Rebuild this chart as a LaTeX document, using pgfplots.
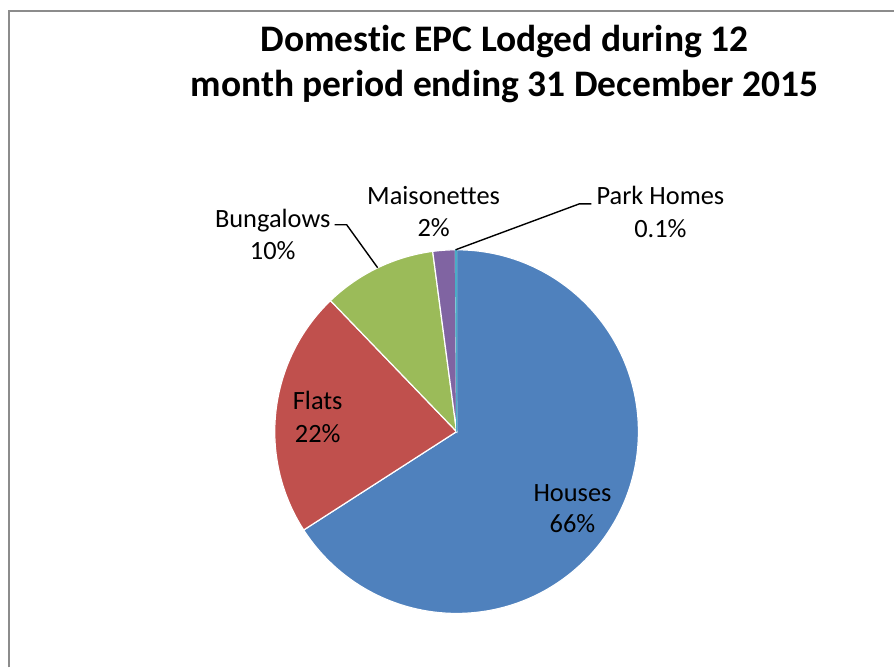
\documentclass[border=0pt]{standalone}
\usepackage{pgfplots}
\usepackage{pgfplotstable}
\pgfplotsset{compat=1.18}
\usepackage{fontspec}
\setmainfont{Carlito}[Ligatures={NoCommon,NoContextual}]
\definecolor{houses}{HTML}{4F81BD}
\definecolor{flats}{HTML}{C0504D}
\definecolor{bungalows}{HTML}{9BBB59}
\definecolor{maison}{HTML}{8064A2}
\definecolor{park}{HTML}{4BACC6}
\definecolor{frame}{HTML}{8C8C8C}

\pgfplotstableread{
name value
Houses 65.9
Flats 21.9
Bungalows 10.1
Maisonettes 2.0
ParkHomes 0.1
}\piedata

\pgfplotstablegetelem{0}{value}\of\piedata \let\vA\pgfplotsretval
\pgfplotstablegetelem{1}{value}\of\piedata \let\vB\pgfplotsretval
\pgfplotstablegetelem{2}{value}\of\piedata \let\vC\pgfplotsretval
\pgfplotstablegetelem{3}{value}\of\piedata \let\vD\pgfplotsretval
\pgfplotstablegetelem{4}{value}\of\piedata \let\vE\pgfplotsretval
\pgfmathsetmacro\aA{90-3.6*\vA}
\pgfmathsetmacro\aB{\aA-3.6*\vB}
\pgfmathsetmacro\aC{\aB-3.6*\vC}
\pgfmathsetmacro\aD{\aC-3.6*\vD}
\pgfmathsetmacro\aE{\aD-3.6*\vE}

\newcommand\lab{\fontsize{13.2pt}{16pt}\selectfont}
\newcommand\ttl{\fontsize{18.75pt}{22.5pt}\selectfont\bfseries}

\begin{document}
\begin{tikzpicture}
\begin{axis}[
  scale only axis, width=447.5pt, height=334pt,
  xmin=0, xmax=895, ymin=0, ymax=668,
  hide axis, clip=false]
\path (axis cs:0,0) rectangle (axis cs:895,668);
\draw[frame, line width=0.8pt] (axis cs:9,0) -- (axis cs:9,657) -- (axis cs:895,657);
% slices
\filldraw[fill=houses, draw=white, line width=0.6pt] (axis cs:457,236) -- ++(90:91pt) arc[start angle=90, end angle=\aA, radius=91pt] -- cycle;
\filldraw[fill=flats, draw=white, line width=0.6pt] (axis cs:457,236) -- ++(\aA:91pt) arc[start angle=\aA, end angle=\aB, radius=91pt] -- cycle;
\filldraw[fill=bungalows, draw=white, line width=0.6pt] (axis cs:457,236) -- ++(\aB:91pt) arc[start angle=\aB, end angle=\aC, radius=91pt] -- cycle;
\filldraw[fill=maison, draw=white, line width=0.6pt] (axis cs:457,236) -- ++(\aC:91pt) arc[start angle=\aC, end angle=\aD, radius=91pt] -- cycle;
\filldraw[fill=park, draw=park, line width=0.5pt] (axis cs:457,236) -- ++(\aD:91pt) arc[start angle=\aD, end angle=\aE, radius=91pt] -- cycle;
% leader lines
\draw[black, line width=0.7pt] (axis cs:335,443) -- (axis cs:347,443) -- (axis cs:378,400);
\draw[black, line width=0.7pt] (axis cs:456,418) -- (axis cs:580,464) -- (axis cs:592,464);
% title
\node[anchor=base, inner sep=0pt] at (axis cs:505,616) {\ttl Domestic EPC Lodged during 12};
\node[anchor=base, inner sep=0pt] at (axis cs:505,571) {\ttl month period ending 31 December 2015};
% labels
\node[anchor=base, inner sep=0pt] at (axis cs:273,440) {\lab Bungalows};
\node[anchor=base, inner sep=0pt] at (axis cs:273,408) {\lab 10\%};
\node[anchor=base, inner sep=0pt] at (axis cs:434,463) {\lab Maisonettes};
\node[anchor=base, inner sep=0pt] at (axis cs:434,431) {\lab 2\%};
\node[anchor=base, inner sep=0pt] at (axis cs:661,463) {\lab Park Homes};
\node[anchor=base, inner sep=0pt] at (axis cs:661,430) {\lab 0.1\%};
\node[anchor=base, inner sep=0pt] at (axis cs:318,258) {\lab Flats};
\node[anchor=base, inner sep=0pt] at (axis cs:318,225) {\lab 22\%};
\node[anchor=base, inner sep=0pt] at (axis cs:573,166) {\lab Houses};
\node[anchor=base, inner sep=0pt] at (axis cs:573,135) {\lab 66\%};
\end{axis}
\end{tikzpicture}
\end{document}
